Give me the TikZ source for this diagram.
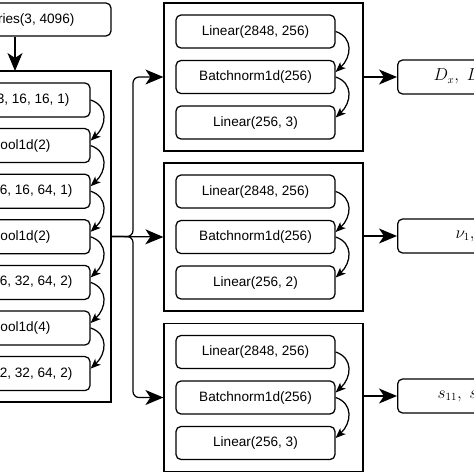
\documentclass[tikz,border=0pt]{standalone}
\usepackage{fontspec}
\setmainfont{Liberation Sans}
\usetikzlibrary{arrows.meta}
\begin{document}
\begin{tikzpicture}[x=1pt,y=-1pt,
  line width=1.25pt,
  blk/.style={draw, rounded corners=5pt, minimum height=34pt, inner sep=0pt},
  outer/.style={draw, inner sep=0pt},
  lbl/.style={inner sep=0pt, font=\fontsize{13.6}{16}\selectfont},
  res/.style={inner sep=0pt, anchor=west, font=\fontsize{16}{19}\selectfont},
  bigarrow/.style={-{Stealth[length=18pt,width=15pt,inset=5pt]}},
  curv/.style={-{Stealth[length=10pt,width=8pt,inset=2.5pt]}},
]
\useasboundingbox (0,0) rectangle (474,474);
\clip (0,0) rectangle (474,474);

% top input node
\node[blk, minimum width=191pt, minimum height=33pt] (inp) at (15.5,19.5) {};
\node[lbl, anchor=east] (inpt) at (75,19.5) {ries(3, 4096)};

% left feature extractor
\node[outer, minimum width=131pt, minimum height=331pt] (L) at (45.5,236.5) {};
\foreach \i/\y/\t/\xe in {1/100/{3, 16, 16, 1)}/70,
                          2/145.6/{ool1d(2)}/51,
                          3/191.2/{6, 16, 64, 1)}/73,
                          4/236.8/{ool1d(2)}/51,
                          5/282.4/{6, 32, 64, 2)}/73,
                          6/328/{ool1d(4)}/51,
                          7/373.6/{2, 32, 64, 2)}/73}{
  \node[blk, minimum width=170pt] (c\i) at (5,\y) {};
  \node[lbl, anchor=east] (ct\i) at (\xe,\y) {\t};
}
\foreach \a/\b in {1/2,2/3,3/4,4/5,5/6,6/7}{
  \draw[curv] (c\a.east) .. controls +(18,6) and +(16,-15) .. ([yshift=5pt]c\b.east);
}
\draw[bigarrow] (inp.south -| 15,0) -- (15,71);

% heads
\foreach \k/\yc/\tl in {1/77/{Linear(256, 3)}, 2/237/{Linear(256, 2)}, 3/397.5/{Linear(256, 3)}}{
  \node[outer, minimum width=199pt, minimum height=148pt] (B\k) at (263.5,\yc) {};
  \node[blk, minimum width=159pt, minimum height=33pt, font=\fontsize{13.6}{16}\selectfont] (h\k a) at (255.5,\yc-45.5) {Linear(2848, 256)};
  \node[blk, minimum width=159pt, minimum height=33pt, font=\fontsize{13.6}{16}\selectfont] (h\k b) at (255.5,\yc) {Batchnorm1d(256)};
  \node[blk, minimum width=159pt, minimum height=33pt, font=\fontsize{13.6}{16}\selectfont] (h\k c) at (255.5,\yc+45.5) {\tl};
  \draw[curv] (h\k a.east) .. controls +(18,6) and +(16,-15) .. ([yshift=5pt]h\k b.east);
  \draw[curv] (h\k b.east) .. controls +(18,6) and +(16,-15) .. ([yshift=5pt]h\k c.east);
}

% branching connectors
\coordinate (j) at (133,236.5);
\draw[bigarrow] (L.east) -- (B2.west);
\draw[bigarrow, rounded corners=6pt] (L.east) -- (j) |- (B1.west);
\draw[bigarrow, rounded corners=6pt] (L.east) -- (j) |- (B3.west);

% results
\node[blk, minimum width=140pt, anchor=west] (r1) at (397,77) {};
\node[blk, minimum width=140pt, anchor=west] (r2) at (397,236) {};
\node[blk, minimum width=140pt, anchor=west] (r3) at (397,396) {};
\node[res] (rt1) at (433,77) {$D_x,\; D_y$};
\node[res] (rt2) at (455,236) {$\nu_1,\; \nu_2$};
\node[res] (rt3) at (437,396) {$s_{11},\; s_{12}$};
\draw[bigarrow] (B1.east |- r1.west) -- (r1.west);
\draw[bigarrow] (B2.east |- r2.west) -- (r2.west);
\draw[bigarrow] (B3.east |- r3.west) -- (r3.west);
\end{tikzpicture}
\end{document}
